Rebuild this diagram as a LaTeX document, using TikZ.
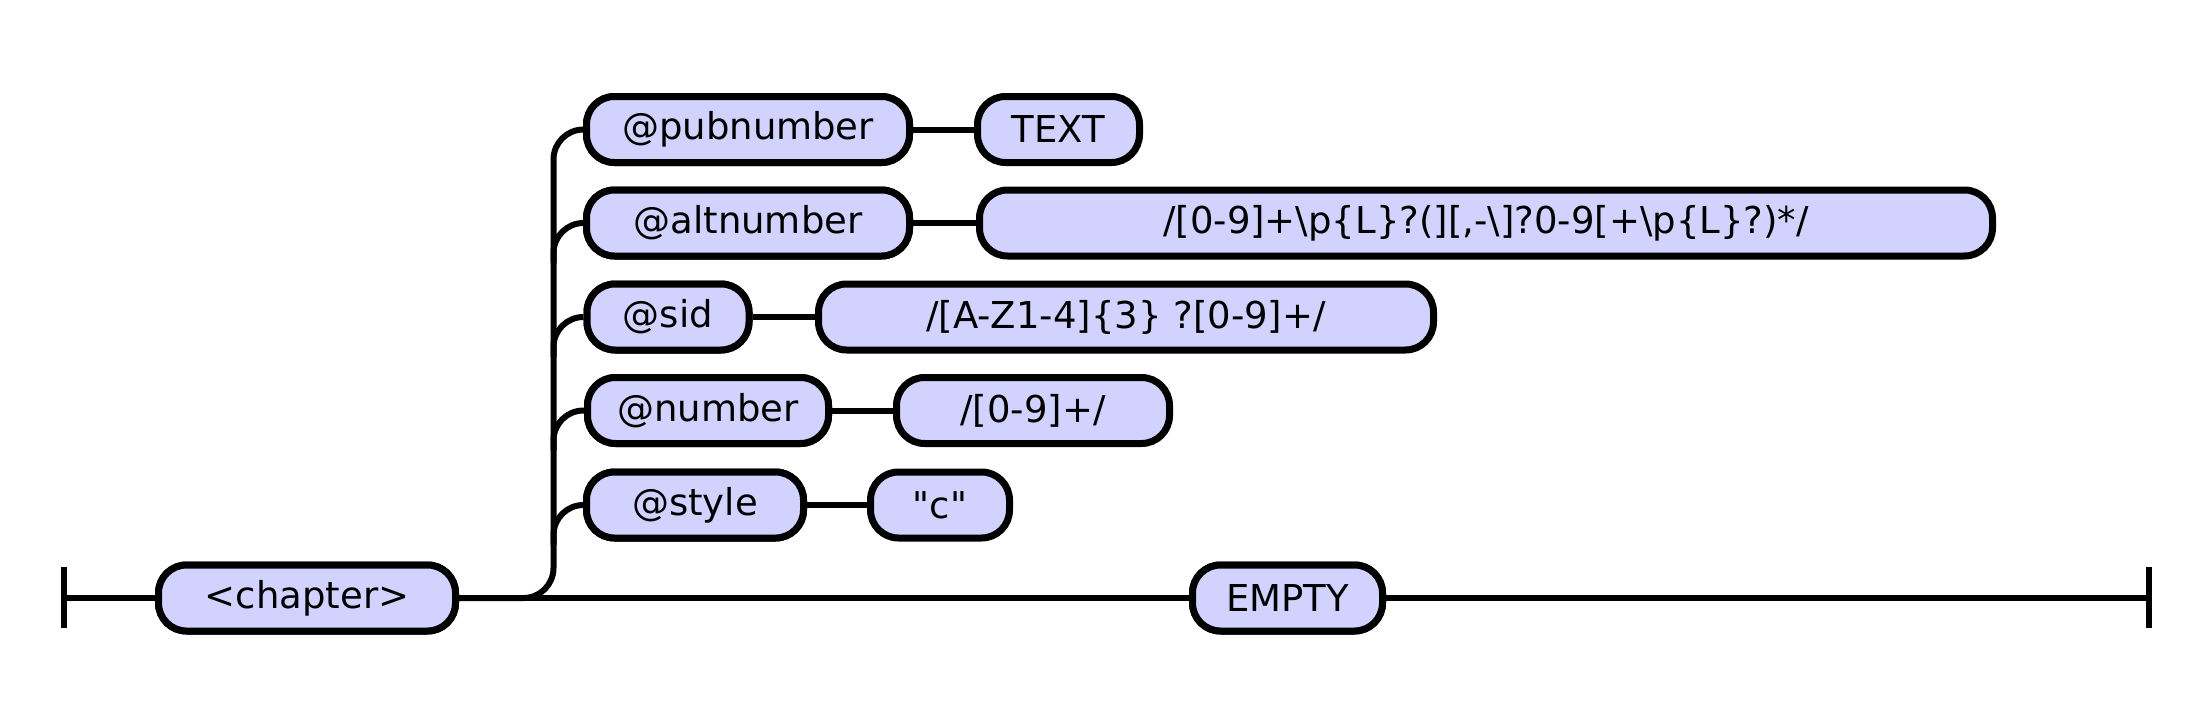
\documentclass[tikz,border=0pt]{standalone}
\usepackage{fontspec}
\newfontfamily\dv{DejaVu Sans}
\definecolor{boxfill}{RGB}{210,210,255}
\begin{document}
\begin{tikzpicture}[x=1pt,y=-1pt,
  term/.style={draw=black, line width=7pt, fill=boxfill, rounded corners=28pt,
    minimum height=66pt, inner sep=0pt, font=\dv\fontsize{37}{44}\selectfont},
  conn/.style={line width=6pt},
  endbar/.style={line width=6pt}]
\useasboundingbox (0,0) rectangle (2211,725);
% nodes
\node[term, minimum width=297pt] (chapter) at (307,598) {<chapter>};
\node[term, minimum width=323pt] (pub) at (748,129.5) {@pubnumber};
\node[term, minimum width=162pt] (text) at (1058.5,129.5) {TEXT};
\node[term, minimum width=323pt] (alt) at (748,223) {@altnumber};
\node[term, minimum width=1013pt] (rx1) at (1486,223) {/[0-9]+\textbackslash p\{L\}?(][,-\textbackslash]?0-9[+\textbackslash p\{L\}?)*/};
\node[term, minimum width=162pt] (sid) at (668,317) {@sid};
\node[term, minimum width=615pt] (rx2) at (1126,317) {/[A-Z1-4]\{3\} ?[0-9]+/};
\node[term, minimum width=241pt] (number) at (708,410.5) {@number};
\node[term, minimum width=273pt] (rx3) at (1033,410.5) {/[0-9]+/};
\node[term, minimum width=217pt] (style) at (695,505) {@style};
\node[term, minimum width=139pt] (cval) at (940,505) {"c"};
\node[term, minimum width=190pt] (empty) at (1287.5,598) {EMPTY};
% end bars
\coordinate (lbar) at (63.5,598);
\coordinate (rbar) at (2149,598);
\coordinate (vx) at (553.5,598);
\draw[endbar] ([yshift=-30pt]lbar) -- ([yshift=31pt]lbar);
\draw[endbar] ([yshift=-30pt]rbar) -- ([yshift=31pt]rbar);
% main line
\draw[conn] (lbar) -- (chapter.west);
\draw[conn] (chapter.east) -- (empty.west);
\draw[conn] (empty.east) -- (rbar);
% branch
\draw[conn, rounded corners=30pt] (chapter.east) -| (vx |- pub.west) -- (pub.west);
\draw[conn, rounded corners=30pt] ([yshift=-40pt]vx |- alt.west) -- (vx |- alt.west) -- (alt.west);
\draw[conn, rounded corners=30pt] ([yshift=-40pt]vx |- sid.west) -- (vx |- sid.west) -- (sid.west);
\draw[conn, rounded corners=30pt] ([yshift=-40pt]vx |- number.west) -- (vx |- number.west) -- (number.west);
\draw[conn, rounded corners=30pt] ([yshift=-40pt]vx |- style.west) -- (vx |- style.west) -- (style.west);
% row connectors
\draw[conn] (pub.east) -- (text.west);
\draw[conn] (alt.east) -- (rx1.west);
\draw[conn] (sid.east) -- (rx2.west);
\draw[conn] (number.east) -- (rx3.west);
\draw[conn] (style.east) -- (cval.west);
% redraw nodes on top of the lines
\node[term, minimum width=323pt] at (pub) {@pubnumber};
\node[term, minimum width=323pt] at (alt) {@altnumber};
\node[term, minimum width=162pt] at (sid) {@sid};
\node[term, minimum width=241pt] at (number) {@number};
\node[term, minimum width=217pt] at (style) {@style};
\node[term, minimum width=297pt] at (chapter) {<chapter>};
\node[term, minimum width=190pt] at (empty) {EMPTY};
\end{tikzpicture}
\end{document}
